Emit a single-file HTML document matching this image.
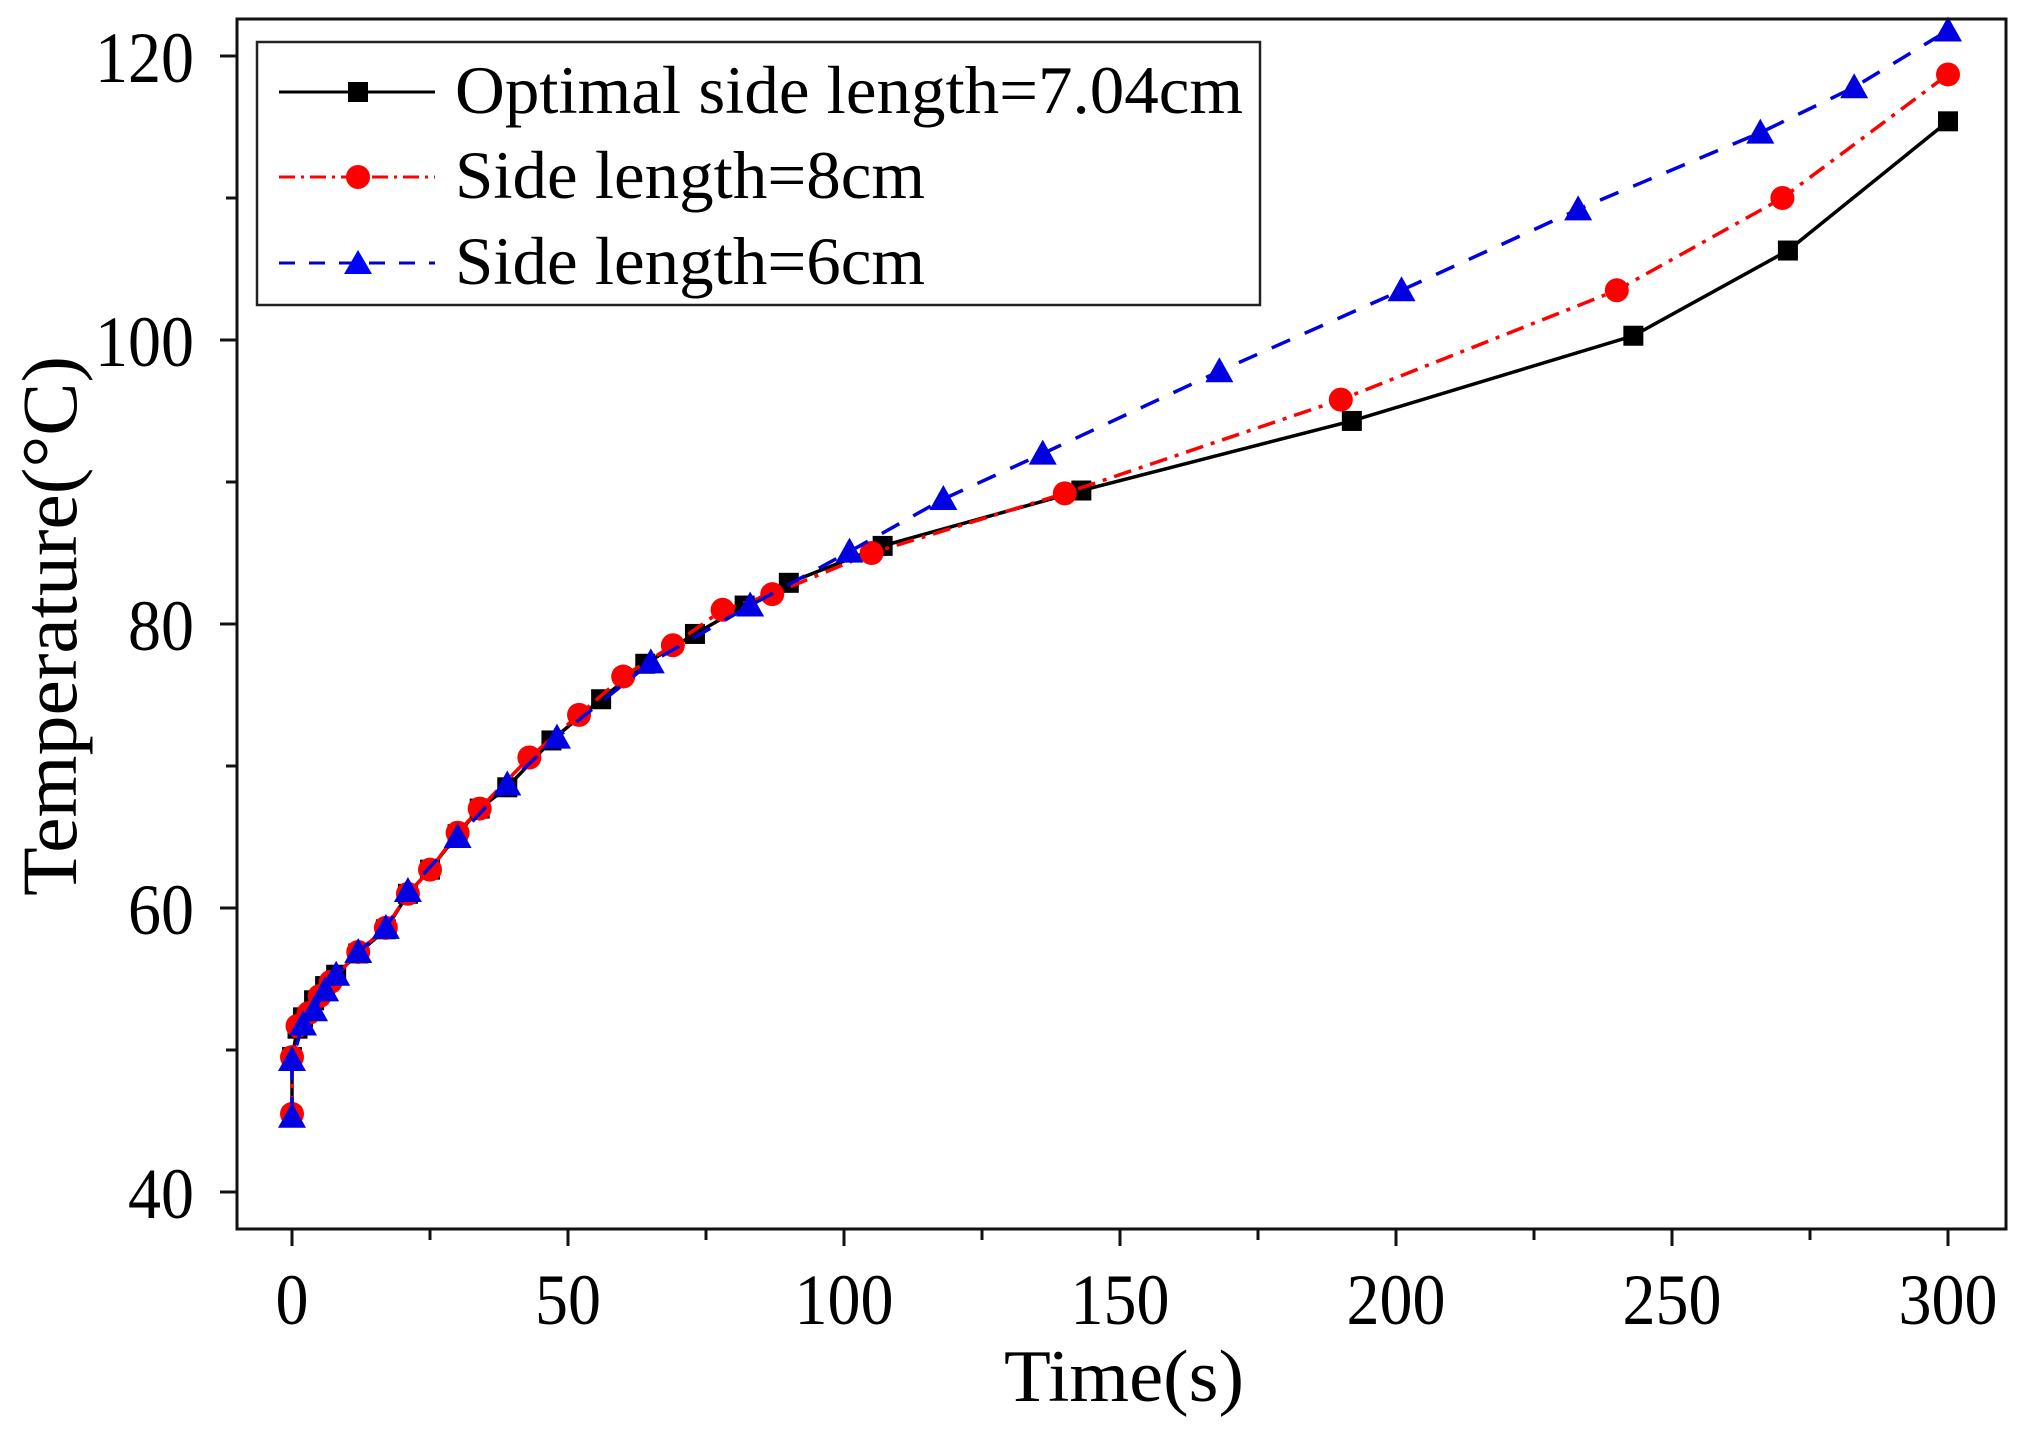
<!DOCTYPE html>
<html><head><meta charset="utf-8"><style>
html,body{margin:0;padding:0;background:#fff;}
svg{display:block;font-family:"Liberation Serif",serif;}
</style></head><body>
<svg id="chart" width="2022" height="1444" viewBox="0 0 2022 1444" xmlns="http://www.w3.org/2000/svg">
<rect width="2022" height="1444" fill="#fff"/>
<g id="ticks"></g>
<g id="series"></g>
<rect x="237" y="19" width="1769" height="1210" fill="none" stroke="#111" stroke-width="3"/>
<text x="1124" y="1401" font-size="74" text-anchor="middle" textLength="240" lengthAdjust="spacingAndGlyphs">Time(s)</text>
<text transform="translate(76,626) rotate(-90)" font-size="78" text-anchor="middle" textLength="540" lengthAdjust="spacingAndGlyphs">Temperature(°C)</text>
<g>
<rect x="257" y="42" width="1003" height="263" fill="#fff" stroke="#222" stroke-width="2.5"/>
<g>
<line x1="279" y1="92" x2="435" y2="92" stroke="#000" stroke-width="3"/>
<rect x="348" y="82" width="20" height="20" fill="#000"/>
<text x="455" y="113" font-size="68" textLength="788" lengthAdjust="spacingAndGlyphs">Optimal side length=7.04cm</text>
</g>
<g>
<line x1="279" y1="177" x2="435" y2="177" stroke="#f00" stroke-width="3" stroke-dasharray="16,6,3,6"/>
<circle cx="358" cy="177" r="12" fill="#f00"/>
<text x="455" y="198" font-size="68" textLength="470" lengthAdjust="spacingAndGlyphs">Side length=8cm</text>
</g>
<g>
<line x1="279" y1="263" x2="435" y2="263" stroke="#0000c8" stroke-width="3" stroke-dasharray="16,14"/>
<polygon points="358,250 372,274 344,274" fill="#00f"/>
<text x="455" y="284" font-size="68" textLength="470" lengthAdjust="spacingAndGlyphs">Side length=6cm</text>
</g>
</g>
</svg>
<script>
var xTicks=[0,50,100,150,200,250,300];
var yTicks=[40,60,80,100,120];
var tBlack=[0,0,1,2,4,6,8,12,17,21,25,30,34,39,47,56,64,73,82,90,107,143,192,243,271,300];
var vBlack=[45.3,49.5,51.5,52.3,53.5,54.5,55.3,56.8,58.5,61,62.7,65.2,67,68.5,71.8,74.7,77.2,79.3,81.3,82.9,85.5,89.4,94.3,100.3,106.3,115.4];
var tRed=[0,0,1,3,5,7,12,17,21,25,30,34,43,52,60,69,78,87,105,140,190,240,270,300];
var vRed=[45.5,49.5,51.7,52.6,53.8,54.8,56.9,58.6,61,62.7,65.3,67,70.6,73.6,76.3,78.5,81,82.1,85,89.2,95.8,103.5,110,118.7];
var tBlue=[0,0,2,4,6,8,12,17,21,30,39,48,65,83,101,118,136,168,201,233,266,283,300];
var vBlue=[45.3,49.3,51.8,52.8,54.2,55.3,56.9,58.6,61.2,65,68.7,72,77.3,81.3,85.1,88.8,92,97.8,103.5,109.2,114.6,117.8,121.8];
var NS='http://www.w3.org/2000/svg';
function X(t){return 292+t*5.52;}
function Y(v){return 56+(120-v)*14.2;}
function mk(tag,attrs,parent){var e=document.createElementNS(NS,tag);for(var k in attrs)e.setAttribute(k,attrs[k]);parent.appendChild(e);return e;}
var tg=document.getElementById('ticks');
xTicks.forEach(function(t,i){
  var l=mk('line',{x1:X(t),x2:X(t),y1:1229,y2:1246,stroke:'#111','stroke-width':3},tg);
  
  
  var s=String(t);
  var tx=mk('text',{x:X(t),y:1324,'font-size':72,'text-anchor':'middle',textLength:s.length*33,lengthAdjust:'spacingAndGlyphs'},tg);
  tx.textContent=s;
  
  
  if(i<xTicks.length-1){
    var m=mk('line',{x1:X(t+25),x2:X(t+25),y1:1229,y2:1240,stroke:'#111','stroke-width':3},tg);
    
    
  }
});
yTicks.forEach(function(v,i){
  var l=mk('line',{x1:220,x2:237,y1:Y(v),y2:Y(v),stroke:'#111','stroke-width':3},tg);
  
  
  var s=String(v);
  var tx=mk('text',{x:194,y:Y(v)+26,'font-size':72,'text-anchor':'end',textLength:s.length*33,lengthAdjust:'spacingAndGlyphs'},tg);
  tx.textContent=s;
  
  
  if(i<yTicks.length-1){
    var m=mk('line',{x1:226,x2:237,y1:Y(v+10),y2:Y(v+10),stroke:'#111','stroke-width':3},tg);
    
    
  }
});
var sg=document.getElementById('series');
function draw(ts,vs,color,dash,shape,name){
  var g=mk('g',{},sg);
  
  
  var pts=ts.map(function(t,i){return X(t)+','+Y(vs[i]);}).join(' ');
  var pl=mk('polyline',{points:pts,fill:'none',stroke:color,'stroke-width':3.5,'stroke-dasharray':dash},g);
  
  
  ts.forEach(function(t,i){
    var x=X(t),y=Y(vs[i]),m;
    if(shape==='sq')m=mk('rect',{x:x-10,y:y-10,width:20,height:20,fill:color},g);
    else if(shape==='ci')m=mk('circle',{cx:x,cy:y,r:12,fill:color},g);
    else m=mk('polygon',{points:x+','+(y-14)+' '+(x+14)+','+(y+11)+' '+(x-14)+','+(y+11),fill:color},g);
    
    
  });
}
draw(tBlack,vBlack,'#000','none','sq','series-optimal');
draw(tRed,vRed,'#f00','18,8,4,8','ci','series-8cm');
draw(tBlue,vBlue,'#0000e0','20,16','tr','series-6cm');
</script>
</body></html>
